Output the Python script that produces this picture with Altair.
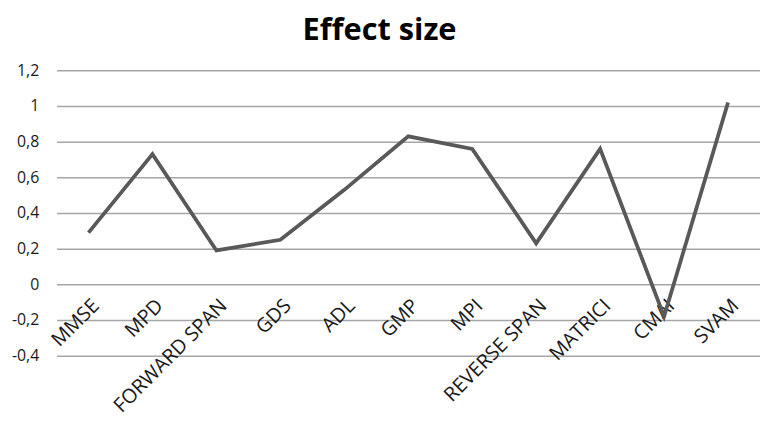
import altair as alt
import pandas as pd

categories = ["MMSE", "MPD", "FORWARD SPAN", "GDS", "ADL", "GMP", "MPI",
              "REVERSE SPAN", "MATRICI", "CMAI", "SVAM"]
effect_size = [0.29, 0.73, 0.19, 0.25, 0.53, 0.83, 0.76, 0.23, 0.76, -0.18, 1.02]
y_ticks = [-0.4, -0.2, 0, 0.2, 0.4, 0.6, 0.8, 1.0, 1.2]

df = pd.DataFrame({"cat": categories, "val": effect_size})

font = "Open Sans"

chart = alt.Chart(df).mark_line(color="#595959", strokeWidth=3.8).encode(
    x=alt.X("cat:N", sort=categories, title=None,
            scale=alt.Scale(type="point", padding=0.5),
            axis=alt.Axis(offset=-72, domain=False, ticks=False, grid=False,
                          labelAngle=-45, labelAlign="right", labelBaseline="top",
                          labelPadding=11, labelFont=font, labelFontSize=20,
                          labelColor="#1a1a1a", labelOverlap=False, labelBound=False,
                          labelFlush=False)),
    y=alt.Y("val:Q", title=None,
            scale=alt.Scale(domain=[-0.4, 1.2], nice=False, zero=False),
            axis=alt.Axis(values=y_ticks, domain=False, ticks=False,
                          gridColor="#a6a6a6", gridWidth=1.5,
                          labelPadding=18, labelFont=font, labelFontSize=16,
                          labelColor="#1a1a1a",
                          labelExpr="replace(replace(format(datum.value, '~g'), '.', ','), '\u2212', '-')")),
).properties(
    width=710, height=288,
    title=alt.TitleParams("Effect size", font=font, fontSize=31, fontWeight="bold",
                          color="#000000", anchor="middle", dx=-29, offset=16),
    autosize=alt.AutoSizeParams(type="none"),
    padding={"left": 49, "top": 61, "right": 0, "bottom": 67},
).configure_view(stroke=None)

chart.save("out.html", embed_options={"renderer": "svg", "actions": False})
